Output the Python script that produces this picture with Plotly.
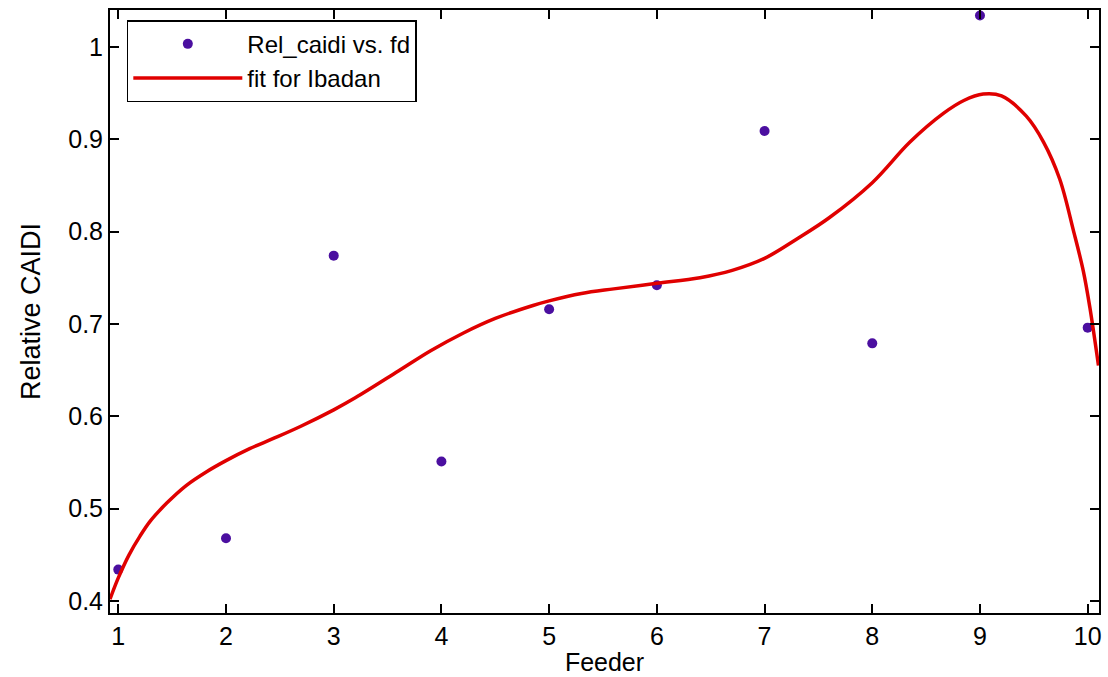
import plotly.graph_objects as go

# Data points (Relative CAIDI per feeder)
feeders = [1, 2, 3, 4, 5, 6, 7, 8, 9, 10]
rel_caidi = [0.434, 0.468, 0.774, 0.551, 0.716, 0.742, 0.909, 0.679, 1.034, 0.696]

# Fit curve
fit_x = [0.923, 1.0, 1.1, 1.2, 1.3, 1.45, 1.63, 1.82, 2.0, 2.22, 2.44, 2.69,
         3.0, 3.2, 3.6, 3.9, 4.2, 4.5, 4.85, 5.0, 5.3, 5.6, 6.0, 6.4, 6.7,
         7.0, 7.3, 7.6, 8.0, 8.35, 8.66, 8.85, 9.03, 9.2, 9.43, 9.59, 9.74,
         9.87, 9.96, 10.02, 10.1]
fit_y = [0.402, 0.425, 0.450, 0.470, 0.487, 0.506, 0.525, 0.540, 0.552, 0.565, 0.576, 0.589,
         0.607, 0.620, 0.649, 0.671, 0.690, 0.706, 0.720, 0.725, 0.733, 0.738, 0.744, 0.750, 0.758,
         0.771, 0.792, 0.815, 0.853, 0.897, 0.928, 0.942, 0.949, 0.947, 0.925, 0.897, 0.857,
         0.800, 0.757, 0.718, 0.655]

x_ticks = [1, 2, 3, 4, 5, 6, 7, 8, 9, 10]
y_ticks = [0.4, 0.5, 0.6, 0.7, 0.8, 0.9, 1.0]
y_tick_text = ["0.4", "0.5", "0.6", "0.7", "0.8", "0.9", "1"]

FONT = "Arial, Liberation Sans, Helvetica, sans-serif"

fig = go.Figure()
fig.add_trace(go.Scatter(
    x=feeders, y=rel_caidi, mode="markers", name="Rel_caidi vs. fd",
    marker=dict(color="#4B0FA0", size=10, line=dict(width=0)),
))
fig.add_trace(go.Scatter(
    x=fit_x, y=fit_y, mode="lines", name="fit for Ibadan",
    line=dict(color="#E00000", width=3.5, shape="spline", smoothing=1.0),
))

axis_common = dict(
    showgrid=False, zeroline=False, showline=True, linecolor="black", linewidth=2,
    mirror="ticks", ticks="inside", ticklen=9, tickwidth=1.5, tickcolor="black",
    tickfont=dict(family=FONT, size=25, color="black"), automargin=False,
)

fig.update_layout(
    width=1108, height=677,
    margin=dict(l=110, r=9, t=10, b=64),
    paper_bgcolor="white", plot_bgcolor="white",
    font=dict(family=FONT, color="black"),
    showlegend=True,
    legend=dict(
        x=0.017, y=0.983, xanchor="left", yanchor="top",
        bgcolor="white", bordercolor="black", borderwidth=1.5,
        font=dict(family=FONT, size=24, color="black"),
        itemwidth=109, tracegroupgap=0,
    ),
    xaxis=dict(
        range=[0.923, 10.105], tickvals=x_ticks,
        title=dict(text="Feeder", font=dict(family=FONT, size=25), standoff=4),
        **axis_common,
    ),
    yaxis=dict(
        range=[0.387, 1.040], tickvals=y_ticks, ticktext=y_tick_text,
        title=dict(text="Relative CAIDI", font=dict(family=FONT, size=27), standoff=20),
        **axis_common,
    ),
)

fig.write_html(
    "out.html",
    config={"displayModeBar": False},
    post_script="document.body.style.margin='0';document.body.style.padding='0';"
                "document.documentElement.style.overflow='hidden';",
)
